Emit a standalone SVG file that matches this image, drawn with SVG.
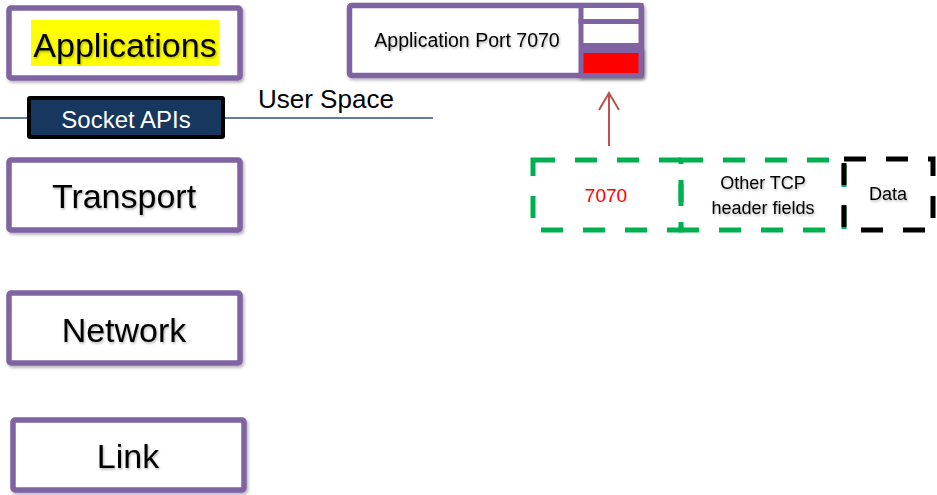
<svg xmlns="http://www.w3.org/2000/svg" width="937" height="495" viewBox="0 0 937 495">
<defs>
<filter id="sh" x="-10%" y="-10%" width="130%" height="140%">
<feDropShadow dx="1.5" dy="2" stdDeviation="1.5" flood-color="#000" flood-opacity="0.3"/>
</filter>
<filter id="tsh" x="-10%" y="-20%" width="130%" height="150%">
<feDropShadow dx="1" dy="1.5" stdDeviation="1" flood-color="#000" flood-opacity="0.3"/>
</filter>
<marker id="arr" viewBox="0 0 20 22" refX="18" refY="11" markerWidth="20" markerHeight="22" markerUnits="userSpaceOnUse" orient="auto">
<path d="M1,1 L18,11 L1,21" fill="none" stroke="#C0504D" stroke-width="2"/>
</marker>
</defs>
<style>
.layer{fill:#fff;stroke:#8064A2;stroke-width:5.5;filter:url(#sh)}
.lt{font-family:"Liberation Sans",Arial,sans-serif;font-size:34px;fill:#000;text-anchor:middle;filter:url(#tsh)}
.st{font-family:"Liberation Sans",Arial,sans-serif;fill:#000;text-anchor:middle}
.dash{fill:none;stroke-width:5;stroke-dasharray:22 20}
</style>
<rect width="937" height="495" fill="#fff"/>
<g id="connectors">
<line x1="0" y1="118" x2="30" y2="118" stroke="#2F4F7F" stroke-width="1.5"/>
<line x1="222" y1="118" x2="433" y2="118" stroke="#2F4F7F" stroke-width="1.5"/>
<line x1="609" y1="146" x2="609" y2="93" stroke="#C0504D" stroke-width="2" marker-end="url(#arr)"/>
</g>
<g id="applications">
<rect class="layer" x="9" y="8" width="231" height="70" rx="2"/>
<rect x="31" y="20" width="188" height="46" fill="#FFFF00"/>
<text class="lt" x="125" y="57">Applications</text>
</g>
<g id="socket-apis">
<rect x="29" y="98" width="194" height="39" fill="#17375E" stroke="#000" stroke-width="4" rx="1"/>
<text class="st" x="126" y="128" font-size="24" style="fill:#fff">Socket APIs</text>
</g>
<g id="user-space">
<text x="258" y="108" font-family="'Liberation Sans',Arial,sans-serif" font-size="26" fill="#000">User Space</text>
</g>
<g id="transport">
<rect class="layer" x="9" y="160" width="231" height="70" rx="2"/>
<text class="lt" x="124" y="208">Transport</text>
</g>
<g id="network">
<rect class="layer" x="9" y="293" width="231" height="70" rx="2"/>
<text class="lt" x="124" y="342">Network</text>
</g>
<g id="link">
<rect class="layer" x="13" y="420" width="231" height="70" rx="2"/>
<text class="lt" x="128" y="468">Link</text>
</g>
<g id="app-port">
<rect class="layer" x="349.5" y="5.5" width="292" height="70" rx="2"/>
<rect x="581" y="5.5" width="60" height="16" fill="#fff" stroke="#8064A2" stroke-width="5"/>
<rect x="581" y="21.5" width="60" height="24" fill="#fff" stroke="#8064A2" stroke-width="5"/>
<rect x="581" y="50.5" width="60" height="25" fill="#FF0000" stroke="#8064A2" stroke-width="5" filter="url(#sh)"/>
<text class="st" x="467" y="47" font-size="19.5" filter="url(#tsh)">Application Port 7070</text>
</g>
<g id="port-field">
<rect class="dash" x="533" y="160" width="148" height="70" stroke="#00B050"/>
<text class="st" x="606" y="202" font-size="19" style="fill:#FF0000">7070</text>
</g>
<g id="tcp-header">
<rect class="dash" x="681" y="160" width="163" height="70" stroke="#00B050"/>
<text class="st" x="763" y="189" font-size="18" filter="url(#tsh)">Other TCP</text>
<text class="st" x="763" y="214" font-size="18" filter="url(#tsh)">header fields</text>
</g>
<g id="data">
<rect class="dash" x="844" y="159" width="89" height="71" stroke="#000"/>
<text class="st" x="888" y="200" font-size="18" filter="url(#tsh)">Data</text>
</g>
</svg>
